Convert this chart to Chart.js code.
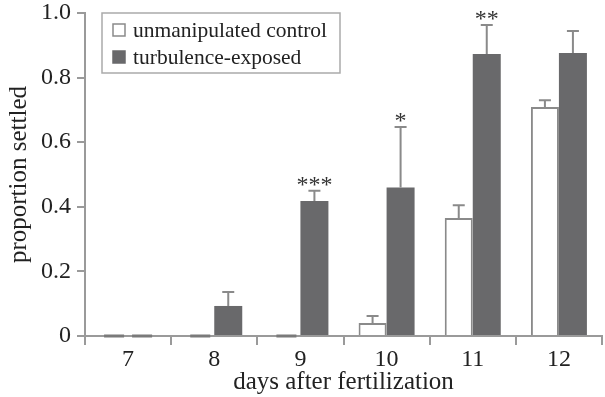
<!DOCTYPE html>
<html>
<head>
<meta charset="utf-8">
<script src="https://cdn.jsdelivr.net/npm/chart.js@4"></script>
<style>
html,body{margin:0;padding:0;background:#fff}
#wrap{width:605px;height:397px}
</style>
</head>
<body>
<div id="wrap"><canvas id="c" width="605" height="397"></canvas></div>
<script>
const days=['7','8','9','10','11','12'];
const controlVals=[0,0,0,0.04,0.365,0.709];
const controlErr=[0,0,0,0.022,0.04,0.021];
const turbVals=[0,0.093,0.418,0.46,0.873,0.876];
const turbErr=[0,0.043,0.032,0.187,0.09,0.068];
const sigMarks=['','','***','*','**',''];
const yTicks=[0,0.2,0.4,0.6,0.8,1.0];

const FONT='"Liberation Serif", "DejaVu Serif", serif';
const AXIS='#9a9a9a';
const DARK='#69696b';

// upward-only error bars with caps, plus the significance stars
const errorBars={
  id:'errorBars',
  afterDatasetsDraw(chart){
    const ctx=chart.ctx, y=chart.scales.y;
    const errs=[controlErr,turbErr];
    ctx.save();
    // flat marks for zero-height bars
    chart.data.datasets.forEach((ds,di)=>{
      chart.getDatasetMeta(di).data.forEach((bar,i)=>{
        if(ds.data[i]!==0) return;
        ctx.fillStyle='#7a7a7a';
        ctx.fillRect(bar.x-bar.width/2+4,bar.base-1.5,bar.width-8,3);
      });
    });
    ctx.strokeStyle='#8a8a8a'; ctx.lineWidth=2;
    chart.data.datasets.forEach((ds,di)=>{
      const meta=chart.getDatasetMeta(di);
      meta.data.forEach((bar,i)=>{
        const e=errs[di][i]; if(!e) return;
        const top=y.getPixelForValue(ds.data[i]+e);
        ctx.beginPath();
        ctx.moveTo(bar.x,bar.y); ctx.lineTo(bar.x,top);
        ctx.moveTo(bar.x-6,top); ctx.lineTo(bar.x+6,top);
        ctx.stroke();
      });
    });
    ctx.fillStyle='#333'; ctx.font='24px '+FONT; ctx.textAlign='center'; ctx.textBaseline='alphabetic';
    const meta=chart.getDatasetMeta(1);
    sigMarks.forEach((s,i)=>{
      if(!s) return;
      const top=y.getPixelForValue(turbVals[i]+turbErr[i]);
      ctx.fillText(s,meta.data[i].x,top+1);
    });
    ctx.restore();
  }
};

// boxed legend in top-left of the plot
const boxLegend={
  id:'boxLegend',
  afterDraw(chart){
    const ctx=chart.ctx;
    const x0=102,y0=13,w=238,h=60;
    ctx.save();
    ctx.strokeStyle='#aaa'; ctx.lineWidth=1.5;
    ctx.strokeRect(x0,y0,w,h);
    ctx.font='21.5px '+FONT; ctx.textBaseline='middle';
    chart.data.datasets.forEach((ds,i)=>{
      const cy=y0+17+i*27;
      ctx.fillStyle=ds.backgroundColor; ctx.fillRect(113,cy-6,12,12);
      ctx.strokeStyle=ds.borderColor; ctx.lineWidth=1.5; ctx.strokeRect(113,cy-6,12,12);
      ctx.fillStyle='#222'; ctx.fillText(ds.label,133,cy+1);
    });
    ctx.restore();
  }
};

new Chart(document.getElementById('c'),{
  type:'bar',
  data:{
    labels:days,
    datasets:[
      {label:'unmanipulated control',data:controlVals,backgroundColor:'#ffffff',borderColor:'#8a8a8a',borderWidth:2,borderSkipped:'bottom'},
      {label:'turbulence-exposed',data:turbVals,backgroundColor:DARK,borderColor:DARK,borderWidth:0}
    ]
  },
  options:{
    responsive:false,animation:false,
    categoryPercentage:0.65,barPercentage:1,
    layout:{padding:{top:13,right:3,left:0,bottom:0}},
    plugins:{legend:{display:false},tooltip:{enabled:false}},
    scales:{
      x:{
        offset:true,
        grid:{offset:true,drawOnChartArea:false,drawTicks:true,tickLength:9,color:AXIS,lineWidth:2},
        border:{color:AXIS,width:2},
        ticks:{color:'#222',font:{family:FONT,size:24},padding:0},
        title:{display:true,text:'days after fertilization',color:'#222',font:{family:FONT,size:25},padding:{top:0,bottom:0}},
        afterFit(s){s.height=61}
      },
      y:{
        min:0,max:1,
        afterBuildTicks(s){s.ticks=yTicks.map(v=>({value:v}))},
        grid:{drawOnChartArea:false,drawTicks:true,tickLength:8,color:AXIS,lineWidth:2},
        border:{color:AXIS,width:2},
        ticks:{color:'#222',font:{family:FONT,size:24},padding:6,callback:v=>v===0?'0':v.toFixed(1)},
        title:{display:true,text:'proportion settled',color:'#222',font:{family:FONT,size:25},padding:{bottom:0}},
        afterFit(s){s.width=85;s.paddingTop=0;s.paddingBottom=0}
      }
    }
  },
  plugins:[errorBars,boxLegend]
});
</script>
</body>
</html>
